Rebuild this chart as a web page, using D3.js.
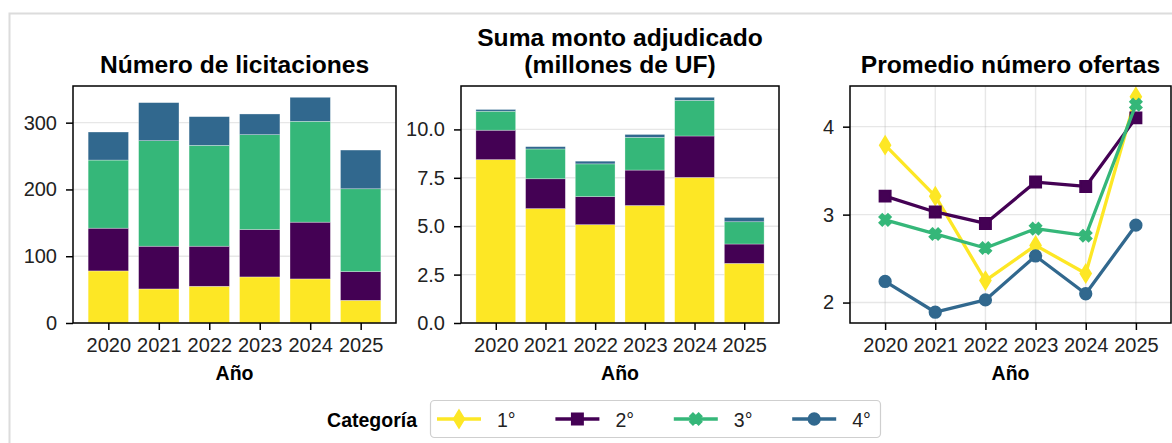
<!DOCTYPE html>
<html>
<head>
<meta charset="utf-8">
<script src="https://cdn.jsdelivr.net/npm/d3@7"></script>
<style>
  html, body { margin: 0; padding: 0; background: #fff; }
  svg { display: block; font-family: "Liberation Sans", Arial, sans-serif; }
  .tick text { fill: #222; font-size: 20px; }
  .domain, .tick line { stroke: #000; }
</style>
</head>
<body>
<svg id="chart" width="1172" height="443"></svg>
<script>
const years = ['2020', '2021', '2022', '2023', '2024', '2025'];
const categories = ['1°', '2°', '3°', '4°'];
const colors = ['#fde725', '#440154', '#35b779', '#31688e'];

// Número de licitaciones, por categoría
const licit1 = [78, 51, 55, 69, 66, 34];
const licit2 = [64, 64, 60, 71, 85, 43];
const licit3 = [102, 158, 151, 142, 151, 124];
const licit4 = [42, 57, 43, 31, 36, 58];

// Suma monto adjudicado (millones de UF)
const monto1 = [8.44, 5.91, 5.08, 6.07, 7.52, 3.08];
const monto2 = [1.52, 1.54, 1.45, 1.83, 2.14, 1.00];
const monto3 = [0.98, 1.54, 1.69, 1.69, 1.84, 1.15];
const monto4 = [0.09, 0.12, 0.14, 0.15, 0.16, 0.22];

// Promedio número ofertas
const ofertas1 = [3.79, 3.21, 2.25, 2.65, 2.33, 4.34];
const ofertas2 = [3.21, 3.03, 2.90, 3.37, 3.32, 4.10];
const ofertas3 = [2.94, 2.78, 2.62, 2.84, 2.76, 4.25];
const ofertas4 = [2.24, 1.89, 2.03, 2.53, 2.10, 2.88];

const ticksLicit = [0, 100, 200, 300];
const ticksMonto = [0, 2.5, 5, 7.5, 10];
const ticksOfertas = [2, 3, 4];

const svg = d3.select('#chart');
const TOP = 86, BOTTOM = 323;
const TICK = 7;

// outer frame (cut off on the right)
svg.append('rect')
  .attr('x', 9.5).attr('y', 13.5).attr('width', 1300).attr('height', 600)
  .attr('fill', 'none').attr('stroke', '#dcdcdc').attr('stroke-width', 2);

function makePanel(left, right, yDomain, yTicks, yFmt, title, gridX) {
  const g = svg.append('g');
  const x = d3.scaleLinear().domain([-0.7, 5.7]).range([left, right]);
  const y = d3.scaleLinear().domain(yDomain).range([BOTTOM, TOP]);

  // grid
  const grid = g.append('g').attr('stroke', '#b0b0b0').attr('stroke-opacity', 0.3).attr('stroke-width', 1.4);
  yTicks.forEach(t => grid.append('line').attr('x1', left).attr('x2', right).attr('y1', y(t)).attr('y2', y(t)));
  if (gridX) years.forEach((_, i) => grid.append('line').attr('x1', x(i)).attr('x2', x(i)).attr('y1', TOP).attr('y2', BOTTOM));

  const marks = g.append('g');

  // spines
  g.append('rect').attr('x', left).attr('y', TOP).attr('width', right - left).attr('height', BOTTOM - TOP)
    .attr('fill', 'none').attr('stroke', '#000').attr('stroke-width', 1.5);

  const xAxis = g.append('g').attr('transform', `translate(0,${BOTTOM})`)
    .call(d3.axisBottom(x).tickValues(d3.range(years.length)).tickFormat(i => years[i]).tickSize(TICK).tickPadding(8));
  const yAxis = g.append('g').attr('transform', `translate(${left},0)`)
    .call(d3.axisLeft(y).tickValues(yTicks).tickFormat(yFmt).tickSize(TICK).tickPadding(9));
  [xAxis, yAxis].forEach(a => {
    a.select('.domain').remove();
    a.selectAll('.tick line').attr('stroke-width', 1.5);
    a.attr('font-family', null).attr('font-size', null);
  });

  g.append('text').attr('x', (left + right) / 2).attr('y', 380)
    .attr('text-anchor', 'middle').attr('font-weight', 'bold').attr('font-size', 19.5).attr('fill', '#000')
    .text('Año');

  title.forEach((line, i) => {
    g.append('text').attr('x', (left + right) / 2).attr('y', 73 - (title.length - 1 - i) * 27.5)
      .attr('text-anchor', 'middle').attr('font-weight', 'bold').attr('font-size', 24.6).attr('fill', '#000')
      .text(line);
  });

  return { x, y, marks };
}

function stackedBars(panel, series) {
  const rows = years.map((yr, i) => {
    const r = { i };
    series.forEach((s, k) => { r[k] = s[i]; });
    return r;
  });
  const stack = d3.stack().keys(d3.range(series.length))(rows);
  stack.forEach((layer, k) => {
    panel.marks.selectAll(null).data(layer).enter().append('rect')
      .attr('x', d => panel.x(d.data.i - 0.4))
      .attr('width', d => panel.x(d.data.i + 0.4) - panel.x(d.data.i - 0.4))
      .attr('y', d => panel.y(d[1]))
      .attr('height', d => panel.y(d[0]) - panel.y(d[1]))
      .attr('fill', colors[k])
      .attr('stroke', '#fff').attr('stroke-opacity', 0.5).attr('stroke-width', 0.6);
  });
}

// marker shapes
const diamondPath = 'M0,-8.5L5.2,0L0,8.5L-5.2,0Z';
const squarePath = d3.symbol().type(d3.symbolSquare).size(120)();
const xPath = d3.symbol().type(d3.symbolCross).size(80)();
const circlePath = d3.symbol().type(d3.symbolCircle).size(100)();
const markerPaths = [diamondPath, squarePath, xPath, circlePath];
const markerRot = [0, 0, 45, 0];

function drawMarker(sel, k, cx, cy) {
  sel.append('path').attr('d', markerPaths[k])
    .attr('transform', `translate(${cx},${cy}) rotate(${markerRot[k]})`)
    .attr('fill', colors[k]).attr('stroke', colors[k]).attr('stroke-width', 2).attr('stroke-linejoin', 'miter');
}

// Panel 1
const licitSeries = [licit1, licit2, licit3, licit4];
const licitMax = d3.max(years.map((_, i) => d3.sum(licitSeries, s => s[i])));
const p1 = makePanel(73, 396, [0, licitMax * 1.05], ticksLicit, d3.format('d'), ['Número de licitaciones'], false);
stackedBars(p1, licitSeries);

// Panel 2
const montoSeries = [monto1, monto2, monto3, monto4];
const montoMax = d3.max(years.map((_, i) => d3.sum(montoSeries, s => s[i])));
const p2 = makePanel(461, 779, [0, montoMax * 1.05], ticksMonto, d3.format('.1f'), ['Suma monto adjudicado', '(millones de UF)'], false);
stackedBars(p2, montoSeries);

// Panel 3
const ofertasSeries = [ofertas1, ofertas2, ofertas3, ofertas4];
const ext = d3.extent(ofertasSeries.flat());
const pad = (ext[1] - ext[0]) * 0.05;
const p3 = makePanel(850, 1171, [ext[0] - pad, ext[1] + pad], ticksOfertas, d3.format('d'), ['Promedio número ofertas'], true);
const line = d3.line().x((d, i) => p3.x(i)).y(d => p3.y(d));
ofertasSeries.forEach((s, k) => {
  const lg = p3.marks.append('g');
  lg.append('path').attr('d', line(s)).attr('fill', 'none')
    .attr('stroke', colors[k]).attr('stroke-width', 3.3).attr('stroke-linejoin', 'round');
  s.forEach((v, i) => drawMarker(lg, k, p3.x(i), p3.y(v)));
});

// Legend
svg.append('text').attr('x', 417).attr('y', 427).attr('text-anchor', 'end')
  .attr('font-weight', 'bold').attr('font-size', 19.5).attr('fill', '#000').text('Categoría');
svg.append('rect').attr('x', 430.5).attr('y', 400.5).attr('width', 450).attr('height', 37).attr('rx', 4)
  .attr('fill', '#fff').attr('stroke', '#cfcfcf').attr('stroke-width', 1.2);
categories.forEach((c, k) => {
  const x0 = 437 + k * 118.4;
  const lg = svg.append('g');
  lg.append('line').attr('x1', x0).attr('x2', x0 + 44).attr('y1', 419).attr('y2', 419)
    .attr('stroke', colors[k]).attr('stroke-width', 3.3);
  drawMarker(lg, k, x0 + 22, 419);
  lg.append('text').attr('x', x0 + 60).attr('y', 426.5).attr('font-size', 19.5).attr('fill', '#222').text(c);
});
</script>
</body>
</html>
